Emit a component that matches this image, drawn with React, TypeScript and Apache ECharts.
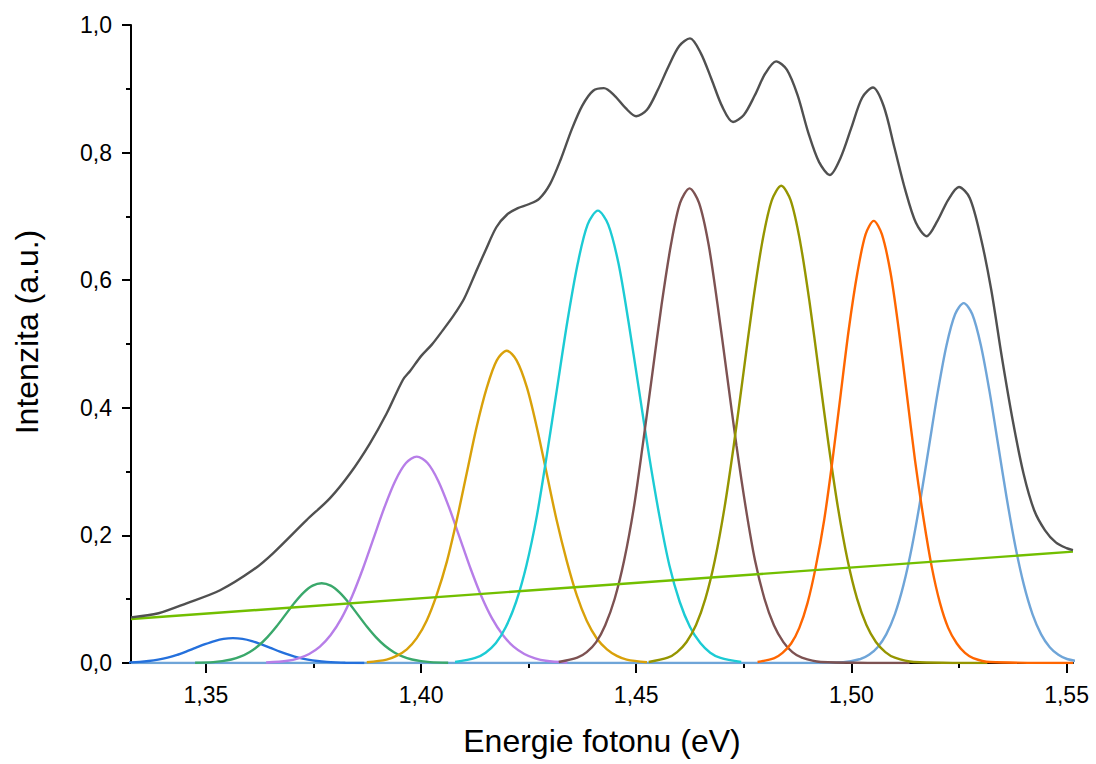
import React, { useEffect, useRef } from "react";
import * as echarts from "echarts";

const X_MIN = 1.3326;
const X_MAX = 1.5515;
const xTickValues = [1.35, 1.4, 1.45, 1.5, 1.55];
const xMinorTickValues = [1.375, 1.425, 1.475, 1.525];
const yTickInterval = 0.2;

const envelope: [number, number][] = [
  [1.3326, 0.0716], [1.339, 0.078], [1.3455, 0.0935], [1.3533, 0.114], [1.361, 0.146],
  [1.3656, 0.172], [1.3734, 0.224], [1.3788, 0.258], [1.3835, 0.297], [1.3881, 0.344],
  [1.392, 0.391], [1.3958, 0.444], [1.3975, 0.458], [1.4, 0.481], [1.4025, 0.499],
  [1.405, 0.521], [1.4075, 0.544], [1.41, 0.571], [1.4125, 0.609], [1.415, 0.647],
  [1.4175, 0.683], [1.42, 0.703], [1.4225, 0.713], [1.425, 0.719], [1.4275, 0.728],
  [1.43, 0.751], [1.4325, 0.79], [1.435, 0.836], [1.4375, 0.874], [1.44, 0.897],
  [1.4425, 0.901], [1.445, 0.889], [1.4475, 0.87], [1.45, 0.857], [1.4525, 0.867],
  [1.455, 0.898], [1.4575, 0.935], [1.46, 0.967], [1.4625, 0.979], [1.465, 0.956],
  [1.4675, 0.915], [1.47, 0.872], [1.4725, 0.848], [1.475, 0.859], [1.4775, 0.889],
  [1.48, 0.924], [1.4825, 0.943], [1.485, 0.93], [1.4875, 0.89], [1.49, 0.831],
  [1.4925, 0.785], [1.495, 0.765], [1.4975, 0.792], [1.5, 0.839], [1.5025, 0.886],
  [1.505, 0.902], [1.5075, 0.873], [1.51, 0.808], [1.5125, 0.742], [1.515, 0.69],
  [1.5175, 0.669], [1.52, 0.693], [1.5225, 0.726], [1.525, 0.746], [1.5275, 0.729],
  [1.53, 0.669], [1.5325, 0.585], [1.535, 0.478], [1.5375, 0.38], [1.54, 0.297],
  [1.5425, 0.239], [1.545, 0.208], [1.5475, 0.189], [1.55, 0.18], [1.5515, 0.177],
];

const baseline: [number, number][] = [[1.3326, 0.069], [1.5515, 0.1745]];

const bluePeak: [number, number][] = [
  [1.3259, 0.0001], [1.3302, 0.0004], [1.3324, 0.0009], [1.3346, 0.0017], [1.3367, 0.0031],
  [1.3389, 0.0053], [1.3411, 0.0084], [1.3433, 0.0127], [1.3454, 0.0179], [1.3476, 0.0237],
  [1.3498, 0.0294], [1.352, 0.0344], [1.3541, 0.0378], [1.3563, 0.039], [1.3585, 0.0378],
  [1.3607, 0.0344], [1.3628, 0.0294], [1.365, 0.0237], [1.3672, 0.0179], [1.3694, 0.0127],
  [1.3715, 0.0084], [1.3737, 0.0053], [1.3759, 0.0031], [1.3781, 0.0017], [1.3802, 0.0009],
  [1.3824, 0.0004], [1.3868, 0.0001],
];

const greenPeak: [number, number][] = [
  [1.3475, 0.0003], [1.3517, 0.0014], [1.3538, 0.0029], [1.3559, 0.0055], [1.358, 0.0099],
  [1.3601, 0.0169], [1.3622, 0.027], [1.3643, 0.0406], [1.3664, 0.0572], [1.3685, 0.0758],
  [1.3706, 0.0944], [1.3727, 0.1103], [1.3748, 0.1212], [1.3769, 0.125], [1.379, 0.1212],
  [1.3811, 0.1103], [1.3832, 0.0944], [1.3853, 0.0758], [1.3874, 0.0572], [1.3895, 0.0406],
  [1.3916, 0.027], [1.3937, 0.0169], [1.3958, 0.0099], [1.3979, 0.0055], [1.4, 0.0029],
  [1.4021, 0.0014], [1.4063, 0.0003],
];

const purplePeak: [number, number][] = [
  [1.364, 0.0007], [1.369, 0.0036], [1.3715, 0.0074], [1.374, 0.0142], [1.3765, 0.0257],
  [1.379, 0.0438], [1.3815, 0.0699], [1.384, 0.105], [1.3865, 0.1481], [1.389, 0.1962],
  [1.3915, 0.2441], [1.394, 0.2854], [1.3965, 0.3134], [1.399, 0.3234], [1.4015, 0.3134],
  [1.404, 0.2854], [1.4065, 0.2441], [1.409, 0.1962], [1.4115, 0.1481], [1.414, 0.105],
  [1.4165, 0.0699], [1.419, 0.0438], [1.4215, 0.0257], [1.424, 0.0142], [1.4265, 0.0074],
  [1.429, 0.0036], [1.434, 0.0007],
];

const goldPeak: [number, number][] = [
  [1.3874, 0.0011], [1.392, 0.0054], [1.3943, 0.0112], [1.3967, 0.0215], [1.399, 0.0389],
  [1.4013, 0.0662], [1.4036, 0.1059], [1.406, 0.1589], [1.4083, 0.2241], [1.4106, 0.2969],
  [1.4129, 0.3695], [1.4153, 0.432], [1.4176, 0.4744], [1.4199, 0.4895], [1.4222, 0.4744],
  [1.4246, 0.432], [1.4269, 0.3695], [1.4292, 0.2969], [1.4315, 0.2241], [1.4339, 0.1589],
  [1.4362, 0.1059], [1.4385, 0.0662], [1.4408, 0.0389], [1.4432, 0.0215], [1.4455, 0.0112],
  [1.4478, 0.0054], [1.4525, 0.0011],
];

const cyanPeak: [number, number][] = [
  [1.4079, 0.0016], [1.4126, 0.0079], [1.415, 0.0162], [1.4174, 0.0312], [1.4197, 0.0564],
  [1.4221, 0.096], [1.4245, 0.1533], [1.4269, 0.2302], [1.4292, 0.3246], [1.4316, 0.43],
  [1.434, 0.5352], [1.4364, 0.6257], [1.4387, 0.6872], [1.4411, 0.709], [1.4435, 0.6872],
  [1.4459, 0.6257], [1.4482, 0.5352], [1.4506, 0.43], [1.453, 0.3246], [1.4554, 0.2302],
  [1.4577, 0.1533], [1.4601, 0.096], [1.4625, 0.0564], [1.4649, 0.0312], [1.4672, 0.0162],
  [1.4696, 0.0079], [1.4744, 0.0016],
];

const brownPeak: [number, number][] = [
  [1.432, 0.0016], [1.4363, 0.0083], [1.4385, 0.017], [1.4407, 0.0327], [1.4428, 0.0592],
  [1.445, 0.1007], [1.4472, 0.1609], [1.4494, 0.2415], [1.4515, 0.3406], [1.4537, 0.4513],
  [1.4559, 0.5616], [1.4581, 0.6566], [1.4602, 0.7211], [1.4624, 0.744], [1.4646, 0.7211],
  [1.4668, 0.6566], [1.4689, 0.5616], [1.4711, 0.4513], [1.4733, 0.3406], [1.4755, 0.2415],
  [1.4776, 0.1609], [1.4798, 0.1007], [1.482, 0.0592], [1.4842, 0.0327], [1.4863, 0.017],
  [1.4885, 0.0083], [1.4929, 0.0016], [1.5135, 0],
];

const olivePeak: [number, number][] = [
  [1.4529, 0.0016], [1.4573, 0.0083], [1.4595, 0.0171], [1.4617, 0.0329], [1.4639, 0.0595],
  [1.4661, 0.1012], [1.4683, 0.1618], [1.4705, 0.2428], [1.4727, 0.3425], [1.4749, 0.4537],
  [1.4771, 0.5646], [1.4793, 0.6601], [1.4815, 0.725], [1.4837, 0.748], [1.4859, 0.725],
  [1.4881, 0.6601], [1.4903, 0.5646], [1.4925, 0.4537], [1.4947, 0.3425], [1.4969, 0.2428],
  [1.4991, 0.1618], [1.5013, 0.1012], [1.5035, 0.0595], [1.5057, 0.0329], [1.5079, 0.0171],
  [1.5101, 0.0083], [1.5145, 0.0016], [1.5316, 0],
];

const orangePeak: [number, number][] = [
  [1.4782, 0.0015], [1.4821, 0.0077], [1.484, 0.0158], [1.486, 0.0305], [1.4879, 0.0551],
  [1.4898, 0.0938], [1.4917, 0.1499], [1.4937, 0.225], [1.4956, 0.3173], [1.4975, 0.4203],
  [1.4994, 0.5231], [1.5014, 0.6116], [1.5033, 0.6717], [1.5052, 0.693], [1.5071, 0.6717],
  [1.5091, 0.6116], [1.511, 0.5231], [1.5129, 0.4203], [1.5148, 0.3173], [1.5168, 0.225],
  [1.5187, 0.1499], [1.5206, 0.0938], [1.5225, 0.0551], [1.5245, 0.0305], [1.5264, 0.0158],
  [1.5283, 0.0077], [1.5322, 0.0015], [1.5515, 0],
];

const lightBluePeak: [number, number][] = [
  [1.3326, 0], [1.49, 0],
  [1.4981, 0.0012], [1.5021, 0.0063], [1.5041, 0.0129], [1.5061, 0.0248], [1.5081, 0.0449],
  [1.5101, 0.0763], [1.5121, 0.122], [1.5141, 0.1831], [1.5161, 0.2582], [1.5181, 0.3421],
  [1.5201, 0.4257], [1.5221, 0.4977], [1.5241, 0.5466], [1.5261, 0.564], [1.5281, 0.5466],
  [1.5301, 0.4977], [1.5321, 0.4257], [1.5341, 0.3421], [1.5361, 0.2582], [1.5381, 0.1831],
  [1.5401, 0.122], [1.5421, 0.0763], [1.5441, 0.0449], [1.5461, 0.0248], [1.5481, 0.0129],
  [1.5501, 0.0063], [1.5541, 0.0012],
];

const FONT = "'Liberation Sans', Arial, sans-serif";

function lineSeries(name: string, data: [number, number][], color: string, smooth = 0.3) {
  return {
    name,
    type: "line",
    data,
    smooth,
    symbol: "none",
    showSymbol: false,
    silent: true,
    lineStyle: { color, width: 2.4 },
    z: 3,
  };
}

export default function App() {
  const ref = useRef<HTMLDivElement>(null);
  useEffect(() => {
    const chart = echarts.init(ref.current!, undefined, { renderer: "svg" });
    chart.setOption({
      animation: false,
      backgroundColor: "#ffffff",
      grid: { left: 131, right: 23, top: 25, bottom: 101, containLabel: false },
      xAxis: [
        {
          type: "value",
          min: X_MIN,
          max: X_MAX,
          position: "bottom",
          name: "Energie fotonu (eV)",
          nameLocation: "middle",
          nameGap: 62,
          nameTextStyle: { fontSize: 32, color: "#000", fontFamily: FONT },
          axisLine: { show: true, lineStyle: { color: "#000", width: 2 } },
          axisTick: {
            show: true,
            length: 10,
            customValues: xTickValues,
            lineStyle: { color: "#000", width: 2 },
          },
          axisLabel: {
            show: true,
            customValues: xTickValues,
            margin: 20,
            fontSize: 23,
            color: "#000",
            fontFamily: FONT,
            formatter: (v: number) => v.toFixed(2).replace(".", ","),
          },
          splitLine: { show: false },
          z: 1,
        },
        {
          type: "value",
          min: X_MIN,
          max: X_MAX,
          position: "bottom",
          axisLine: { show: false },
          axisTick: {
            show: true,
            length: 5,
            customValues: xMinorTickValues,
            lineStyle: { color: "#000", width: 2 },
          },
          axisLabel: { show: false },
          splitLine: { show: false },
          z: 1,
        },
      ],
      yAxis: {
        type: "value",
        min: 0,
        max: 1,
        interval: yTickInterval,
        name: "Intenzita (a.u.)",
        nameLocation: "middle",
        nameRotate: 90,
        nameGap: 88,
        nameTextStyle: { fontSize: 32, color: "#000", fontFamily: FONT, padding: [0, 0, 0, 24] },
        axisLine: { show: true, lineStyle: { color: "#000", width: 2 } },
        axisTick: { show: true, length: 9, lineStyle: { color: "#000", width: 2 } },
        minorTick: { show: true, splitNumber: 2, length: 5, lineStyle: { color: "#000", width: 2 } },
        axisLabel: {
          margin: 19,
          fontSize: 23,
          color: "#000",
          fontFamily: FONT,
          formatter: (v: number) => v.toFixed(1).replace(".", ","),
        },
        splitLine: { show: false },
        minorSplitLine: { show: false },
        z: 1,
      },
      series: [
        lineSeries("peak9", lightBluePeak, "#6fa5d8"),
        lineSeries("peak1", bluePeak, "#2470dc"),
        lineSeries("peak2", greenPeak, "#3aa86b"),
        lineSeries("peak3", purplePeak, "#b77ee8"),
        lineSeries("peak4", goldPeak, "#d9a10a"),
        lineSeries("peak5", cyanPeak, "#1ccbd4"),
        lineSeries("peak6", brownPeak, "#7d5252"),
        lineSeries("peak7", olivePeak, "#959500"),
        lineSeries("peak8", orangePeak, "#ff6600"),
        lineSeries("baseline", baseline, "#72bf00", 0),
        lineSeries("envelope", envelope, "#505050", 0.3),
      ],
    });
    return () => chart.dispose();
  }, []);
  return (
    <div
      ref={ref}
      style={{ position: "absolute", left: 0, top: 0, width: 1096, height: 764 }}
    />
  );
}
